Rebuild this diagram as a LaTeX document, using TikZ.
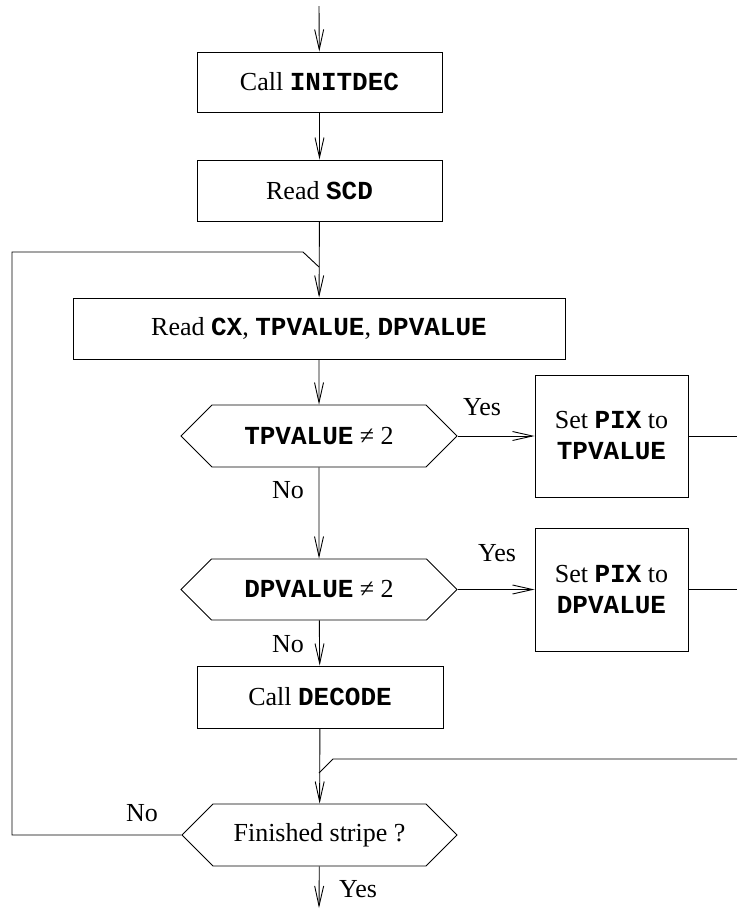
\documentclass[tikz,border=0pt]{standalone}
\usepackage{fontspec}
\setmainfont{Liberation Serif}
\setmonofont{Liberation Mono}
\usetikzlibrary{arrows.meta,shapes.symbols}
\newcommand{\kw}[1]{\textbf{\texttt{#1}}}
\tikzset{
  box/.style={draw, rectangle, inner sep=0pt, align=center},
  test/.style={draw, signal, signal to=west and east, signal pointer angle=90, inner sep=0pt},
  lbl/.style={inner sep=0pt},
}
\begin{document}
\begin{tikzpicture}[x=1pt, y=-1pt, line width=0.9pt, >={Straight Barb[length=20pt,width=9pt]},
    font=\fontsize{26}{31}\selectfont]
    \useasboundingbox (0,0) rectangle (737,911);
    \node[box, minimum width=245pt, minimum height=60pt] (init) at (319.5,82) {Call \kw{INITDEC}};
    \node[box, minimum width=245pt, minimum height=61pt] (scd) at (319.5,190.5) {Read \kw{SCD}};
    \node[box, minimum width=492pt, minimum height=61pt] (read) at (319,328.5) {Read \kw{CX}, \kw{TPVALUE}, \kw{DPVALUE}};
    \node[test, minimum width=276pt, minimum height=62pt] (tp) at (319,436) {\kw{TPVALUE} ≠ 2};
    \node[test, minimum width=276pt, minimum height=61pt] (dp) at (319,589.5) {\kw{DPVALUE} ≠ 2};
    \node[box, minimum width=246pt, minimum height=62pt] (decode) at (320,697) {Call \kw{DECODE}};
    \node[test, minimum width=275pt, minimum height=62pt] (done) at (319.5,835) {Finished stripe ?};
    \node[box, minimum width=153pt, minimum height=122pt] (settp) at (611.5,436) {Set \kw{PIX} to\\\kw{TPVALUE}};
    \node[box, minimum width=153pt, minimum height=123pt] (setdp) at (611.5,589.5) {Set \kw{PIX} to\\\kw{DPVALUE}};
    \coordinate (start) at (319,6);
    \coordinate (stop) at (319,908);
    \coordinate (back) at (319,267);
    \coordinate (join) at (319,773);
    \coordinate (tpout) at (737,436);
    \coordinate (dpout) at (737,589.5);
    \coordinate (joinin) at (737,759);
    \draw[->] (start) -- (init);
    \draw[->] (init) -- (scd);
    \draw[->] (scd) -- (read);
    \draw[->] (read) -- (tp);
    \draw[->] (tp) -- (dp);
    \draw[->] (dp) -- (decode);
    \draw[->] (decode) -- (done);
    \draw[->] (done) -- (stop);
    \draw[->] (tp.east) -- (settp);
    \draw[->] (dp.east) -- (setdp);
    \draw (settp) -- (tpout);
    \draw (setdp) -- (dpout);
    \draw (done.west) -| (12,252) -- (303,252) -- (back);
    \draw (joinin) -- (333,759) -- (join);
    \node[lbl] (tpyes) at (482,407) {Yes};
    \node[lbl] (tpno) at (288,490) {No};
    \node[lbl] (dpyes) at (497,553) {Yes};
    \node[lbl] (dpno) at (288,644) {No};
    \node[lbl] (doneno) at (142,813) {No};
    \node[lbl] (doneyes) at (358,889) {Yes};
\end{tikzpicture}
\end{document}
